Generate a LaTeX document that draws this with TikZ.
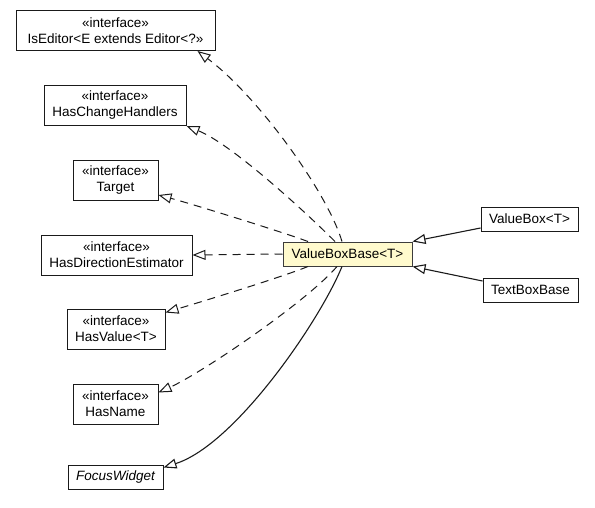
\documentclass[tikz,border=0pt]{standalone}
\usepackage{fontspec}
\setmainfont{Liberation Sans}
\usepackage{tikz}
\usetikzlibrary{arrows.meta,positioning,calc}
\definecolor{uml-ink}{HTML}{1A1A1A}
\definecolor{uml-note}{HTML}{FFFACD}

\begin{document}
\begin{tikzpicture}[
  x=1pt,y=-1pt,font=\fontsize{13.5}{16}\selectfont,
  cls/.style={draw=uml-ink,line width=1pt,fill=white,align=center,inner sep=0pt,
              minimum height=24pt},
  iface/.style={cls,minimum height=40pt},
  focal/.style={cls,fill=uml-note,draw=uml-ink!85},
  real/.style={-{Triangle[open,length=13pt,width=10pt,fill=white]},uml-ink,line width=1pt,
               dash pattern=on 8pt off 6pt},
  inh/.style={-{Triangle[open,length=13pt,width=10pt,fill=white]},uml-ink,line width=1.1pt}
]
\useasboundingbox (0,0) rectangle (595,507);

\node[iface,minimum width=199pt] (iseditor) at (115.5,30.5)
     {«interface»\\IsEditor<E extends Editor<?>>};
\node[iface,minimum width=142pt] (haschange) at (115,105.5)
     {«interface»\\HasChangeHandlers};
\node[iface,minimum width=85pt]  (target) at (115.5,180.5)
     {«interface»\\Target};
\node[iface,minimum width=151pt] (hasdir) at (116.5,255)
     {«interface»\\HasDirectionEstimator};
\node[iface,minimum width=98pt]  (hasvalue) at (116,329)
     {«interface»\\HasValue<T>};
\node[iface,minimum width=85pt]  (hasname) at (115.5,404)
     {«interface»\\HasName};
\node[cls,minimum width=95pt]    (focus) at (115.5,477) {\itshape FocusWidget};

\node[focal,minimum width=129pt] (vbb) at (347.5,254) {ValueBoxBase<T>};
\node[cls,minimum width=97pt]    (valuebox) at (529.5,219) {ValueBox<T>};
\node[cls,minimum width=95pt]    (textbox) at (530.5,290) {TextBoxBase};

% realised interfaces
\draw[real] ([xshift=-5.5pt]vbb.north) .. controls +(-15,-50) and +(60,45) ..
      ([xshift=-18pt]iseditor.south east);
\draw[real] ([xshift=-12.5pt]vbb.north) .. controls +(-30,-30) and +(45,18) ..
      (haschange.south east);
\draw[real] ([xshift=-39.5pt]vbb.north) .. controls +(-30,-11) and +(30,8) ..
      ([yshift=6pt]target.south east);
\draw[real] (vbb.west) -- (hasdir.east);
\draw[real] ([xshift=-39.5pt]vbb.south) .. controls +(-30,12) and +(30,-9) ..
      ([yshift=-4pt]hasvalue.north east);
\draw[real] ([xshift=-10.5pt]vbb.south) .. controls +(-30,35) and +(44,-20) ..
      ([yshift=-9pt]hasname.north east);

% superclasses
\draw[inh] ([xshift=-5.5pt]vbb.south) .. controls +(-22,54) and +(72,-23) ..
      ([yshift=-3pt]focus.north east);
\draw[inh] ([yshift=-9pt]valuebox.west) -- (vbb.north east);
\draw[inh] ([yshift=9pt]textbox.west) -- (vbb.south east);

\end{tikzpicture}
\end{document}
